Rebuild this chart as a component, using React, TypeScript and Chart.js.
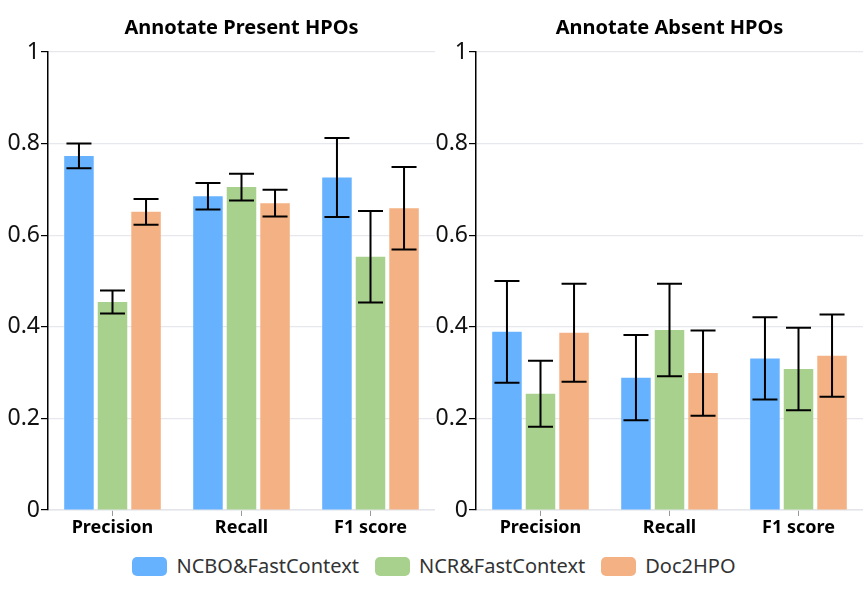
import React, { useEffect, useRef } from "react";
import { Chart, registerables } from "chart.js";

Chart.register(...registerables);

const categories = ["Precision", "Recall", "F1 score"];
const seriesNames = ["NCBO&FastContext", "NCR&FastContext", "Doc2HPO"];
const seriesColors = ["#66B2FF", "#A9D18E", "#F4B183"];
const yTicks = [0, 0.2, 0.4, 0.6, 0.8, 1];

// Annotate Present HPOs
const presentNCBO = [0.773, 0.685, 0.726];
const presentNCR = [0.454, 0.705, 0.553];
const presentDoc2HPO = [0.651, 0.670, 0.659];
const presentNCBOErr = [0.027, 0.029, 0.086];
const presentNCRErr = [0.025, 0.029, 0.100];
const presentDoc2HPOErr = [0.028, 0.029, 0.090];

// Annotate Absent HPOs
const absentNCBO = [0.389, 0.289, 0.331];
const absentNCR = [0.254, 0.393, 0.308];
const absentDoc2HPO = [0.387, 0.299, 0.337];
const absentNCBOErr = [0.111, 0.093, 0.090];
const absentNCRErr = [0.072, 0.101, 0.090];
const absentDoc2HPOErr = [0.107, 0.093, 0.090];

const FONT = "'Noto Sans', 'Open Sans', sans-serif";

const errorBarPlugin = {
  id: "errorBars",
  afterDatasetsDraw(chart: any) {
    const ctx = chart.ctx;
    const yScale = chart.scales.y;
    ctx.save();
    ctx.strokeStyle = "#000";
    ctx.lineWidth = 2;
    chart.data.datasets.forEach((ds: any, di: number) => {
      const meta = chart.getDatasetMeta(di);
      meta.data.forEach((el: any, i: number) => {
        const v = ds.data[i];
        const e = ds.errors[i];
        const yt = yScale.getPixelForValue(v + e);
        const yb = yScale.getPixelForValue(v - e);
        const x = el.x;
        const cap = 12.5;
        ctx.beginPath();
        ctx.moveTo(x, yt);
        ctx.lineTo(x, yb);
        ctx.moveTo(x - cap, yt);
        ctx.lineTo(x + cap, yt);
        ctx.moveTo(x - cap, yb);
        ctx.lineTo(x + cap, yb);
        ctx.stroke();
      });
    });
    ctx.restore();
  },
};

function BarPanel(props: { title: string; values: number[][]; errors: number[][] }) {
  const ref = useRef<HTMLCanvasElement>(null);
  useEffect(() => {
    if (!ref.current) return;
    const chart = new Chart(ref.current, {
      type: "bar",
      data: {
        labels: categories,
        datasets: seriesNames.map((name, i) => ({
          label: name,
          data: props.values[i],
          errors: props.errors[i],
          backgroundColor: seriesColors[i],
          borderWidth: 0,
          categoryPercentage: 0.78,
          barPercentage: 0.88,
        })) as any,
      },
      options: {
        animation: false,
        responsive: false,
        maintainAspectRatio: false,
        layout: { padding: { left: 0, right: 0, top: 0, bottom: 0 } },
        plugins: {
          legend: { display: false },
          tooltip: { enabled: false },
          title: {
            display: true,
            text: props.title,
            fullSize: false,
            color: "#000",
            font: { family: FONT, size: 20, weight: "bold", lineHeight: 1.2 },
            padding: { top: 16, bottom: 12 },
          },
        },
        scales: {
          x: {
            grid: {
              display: true,
              drawOnChartArea: false,
              drawTicks: true,
              tickLength: 6,
              tickColor: "#999",
              offset: false,
            },
            border: { color: "#e3e5ea", width: 1.5 },
            ticks: {
              color: "#000",
              font: { family: FONT, size: 18, weight: "bold" },
              padding: 1,
            },
            afterFit: (s: any) => {
              s.height = 32;
            },
          },
          y: {
            min: 0,
            max: 1,
            afterBuildTicks: (s: any) => {
              s.ticks = yTicks.map((v) => ({ value: v }));
            },
            grid: {
              color: "#e6e8ee",
              lineWidth: 1.2,
              tickColor: "#000",
              tickLength: 7,
            },
            border: { color: "#000", width: 1.5 },
            ticks: {
              color: "#111",
              font: { family: FONT, size: 23 },
              padding: 1,
              callback: (v: any) => String(Math.round(Number(v) * 10) / 10),
            },
            afterFit: (s: any) => {
              s.width = 48;
            },
          },
        },
      },
      plugins: [errorBarPlugin],
    });
    return () => chart.destroy();
  }, []);
  return <canvas ref={ref} width={435} height={542} style={{ display: "block" }} />;
}

export default function App() {
  return (
    <div style={{ position: "absolute", left: 0, top: 0, width: 865, height: 590, background: "#fff" }}>
      <div style={{ position: "absolute", left: 0, top: 0 }}>
        <BarPanel
          title="Annotate Present HPOs"
          values={[presentNCBO, presentNCR, presentDoc2HPO]}
          errors={[presentNCBOErr, presentNCRErr, presentDoc2HPOErr]}
        />
      </div>
      <div style={{ position: "absolute", left: 428, top: 0 }}>
        <BarPanel
          title="Annotate Absent HPOs"
          values={[absentNCBO, absentNCR, absentDoc2HPO]}
          errors={[absentNCBOErr, absentNCRErr, absentDoc2HPOErr]}
        />
      </div>
      <div
        style={{
          position: "absolute",
          left: 0,
          top: 554,
          width: 868,
          display: "flex",
          justifyContent: "center",
          alignItems: "center",
          fontFamily: FONT,
          fontSize: 20,
          color: "#333",
        }}
      >
        {seriesNames.map((n, i) => (
          <div key={n} style={{ display: "flex", alignItems: "center", marginRight: i < 2 ? 16 : 0 }}>
            <span
              style={{
                display: "inline-block",
                width: 35,
                height: 19,
                borderRadius: 5,
                background: seriesColors[i],
                marginRight: 9,
              }}
            />
            <span style={{ lineHeight: "24px" }}>{n}</span>
          </div>
        ))}
      </div>
    </div>
  );
}
